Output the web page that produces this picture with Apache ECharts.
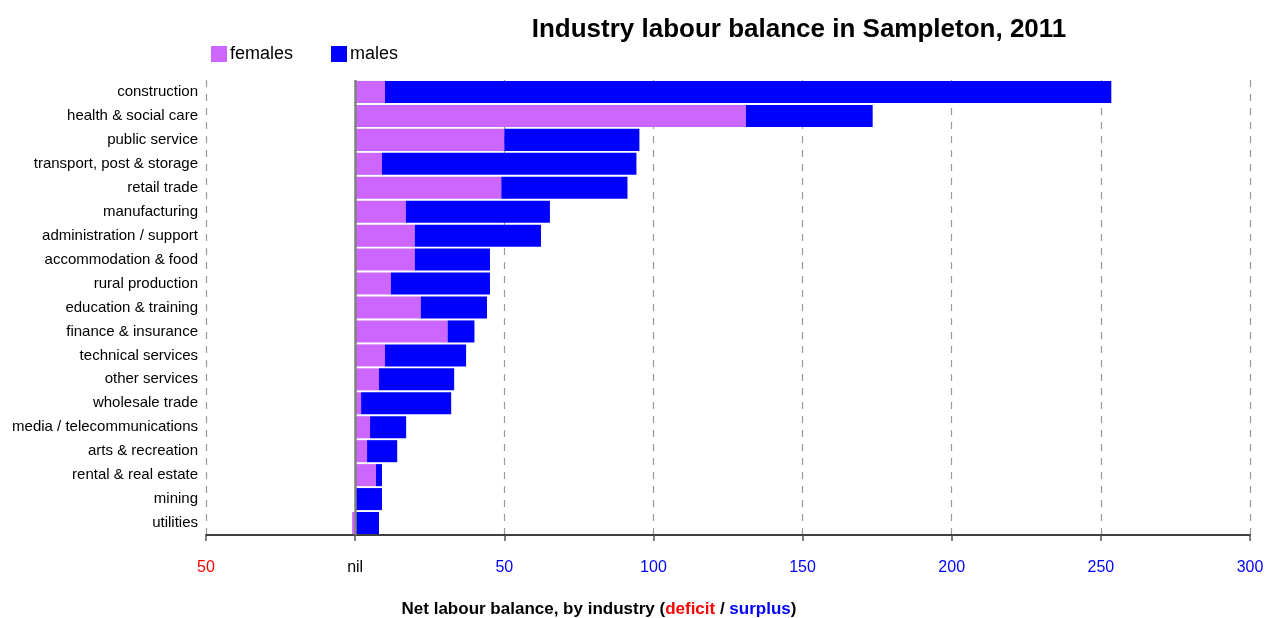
<!DOCTYPE html>
<html>
<head>
<meta charset="utf-8">
<script src="https://cdn.jsdelivr.net/npm/echarts@6/dist/echarts.min.js"></script>
<style>
  html, body { margin: 0; padding: 0; background: #fff; }
  #chart { width: 1266px; height: 618px; }
</style>
</head>
<body>
<div id="chart"></div>
<script>
const industries = [
  'construction', 'health & social care', 'public service', 'transport, post & storage',
  'retail trade', 'manufacturing', 'administration / support', 'accommodation & food',
  'rural production', 'education & training', 'finance & insurance', 'technical services',
  'other services', 'wholesale trade', 'media / telecommunications', 'arts & recreation',
  'rental & real estate', 'mining', 'utilities'
]
const females = [10, 131, 50, 9, 49, 17, 20, 20, 12, 22, 31, 10, 8, 2, 5, 4, 7, 0, -1]
const males = [243.5, 42.5, 45.3, 85.3, 42.3, 48.3, 42.3, 25.2, 33.2, 22.2, 9, 27.2, 25.2, 30.2, 12.1, 10.1, 2, 9, 8]

const font = '"Liberation Sans", Arial, sans-serif'
const chart = echarts.init(document.getElementById('chart'))

const option = {
  animation: false,
  title: [
    {
      text: 'Industry labour balance in Sampleton, 2011',
      left: 794,
      top: 12,
      textAlign: 'center',
      textStyle: { fontFamily: font, fontWeight: 'bold', fontSize: 26, color: '#000' }
    },
    {
      text: 'Net labour balance, by industry ({r|deficit} / {b|surplus})',
      left: 594,
      top: 596,
      textAlign: 'center',
      textStyle: {
        fontFamily: font, fontWeight: 'bold', fontSize: 17, color: '#000',
        rich: {
          r: { fontFamily: font, fontWeight: 'bold', fontSize: 17, color: '#ff0000' },
          b: { fontFamily: font, fontWeight: 'bold', fontSize: 17, color: '#0000ff' }
        }
      }
    }
  ],
  legend: {
    left: 211,
    top: 45,
    padding: 0,
    itemWidth: 16,
    itemHeight: 16,
    itemGap: 38,
    icon: 'rect',
    textStyle: { fontFamily: font, fontSize: 18, color: '#000', padding: [0, 0, 0, -2] },
    data: ['females', 'males']
  },
  grid: { left: 206, right: 16, top: 80, bottom: 83, outerBoundsMode: 'none', containLabel: false },
  xAxis: {
    type: 'value',
    min: -50,
    max: 300,
    interval: 50,
    axisLine: { show: true, lineStyle: { color: '#000', width: 1.5 } },
    axisTick: { show: true, length: 6, lineStyle: { color: '#555', width: 1.5 } },
    axisLabel: {
      margin: 25,
      fontFamily: font,
      fontSize: 16,
      formatter: v => v < 0 ? '{r|' + Math.abs(v) + '}' : v === 0 ? '{k|nil}' : '{b|' + v + '}',
      rich: {
        r: { color: '#ff0000', fontFamily: font, fontSize: 16 },
        k: { color: '#000', fontFamily: font, fontSize: 16 },
        b: { color: '#0000ff', fontFamily: font, fontSize: 16 }
      }
    },
    splitLine: { show: true, lineStyle: { color: '#999', type: [7, 7], width: 1.2 } }
  },
  yAxis: {
    type: 'category',
    inverse: true,
    data: industries,
    axisLine: { show: false },
    axisTick: { show: false },
    axisLabel: { margin: 8, fontFamily: font, fontSize: 15, color: '#000', padding: [3, 0, 0, 0] }
  },
  series: [
    {
      name: 'females',
      type: 'bar',
      stack: 'total',
      barCategoryGap: '8%',
      data: females,
      itemStyle: { color: '#cc66ff' },
      markLine: {
        silent: true,
        symbol: 'none',
        label: { show: false },
        lineStyle: { color: '#808080', type: 'solid', width: 2.5 },
        data: [{ xAxis: 0 }]
      }
    },
    {
      name: 'males',
      type: 'bar',
      stack: 'total',
      barCategoryGap: '8%',
      data: males,
      itemStyle: { color: '#0000ff' }
    }
  ]
}

chart.setOption(option)
window.addEventListener('resize', () => chart.resize())
</script>
</body>
</html>
